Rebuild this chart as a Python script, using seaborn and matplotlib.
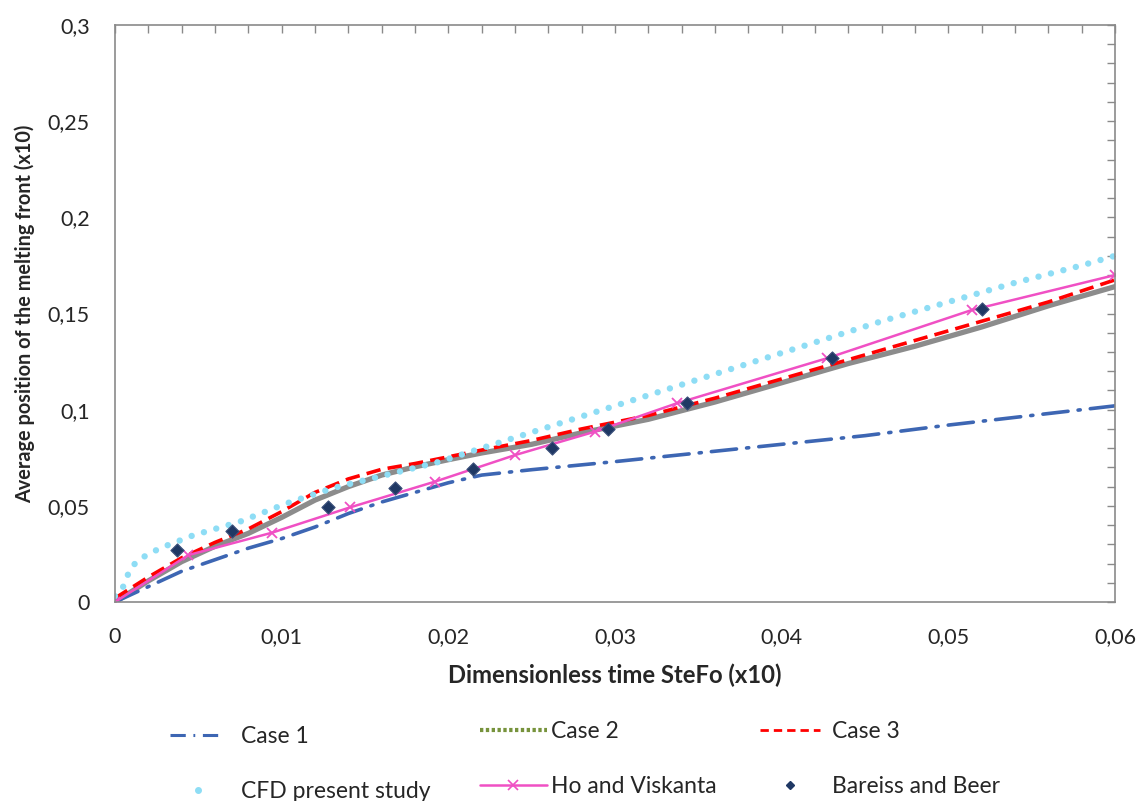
import numpy as np
import matplotlib
matplotlib.use("Agg")
import matplotlib.pyplot as plt
import seaborn as sns
from matplotlib.lines import Line2D
from matplotlib.ticker import MultipleLocator, FuncFormatter

# Case 1 (dash-dot blue)
case1_x = [0, 0.002, 0.004, 0.006, 0.008, 0.010, 0.012, 0.014, 0.016, 0.018, 0.020,
           0.022, 0.025, 0.030, 0.035, 0.040, 0.045, 0.050, 0.055, 0.060]
case1_y = [0, 0.008, 0.016, 0.022, 0.028, 0.033, 0.039, 0.046, 0.052, 0.057, 0.062,
           0.066, 0.0688, 0.073, 0.0775, 0.082, 0.0865, 0.092, 0.097, 0.102]

# Case 2 (drawn as thick grey line) and Case 3 (red dashed)
case_x = [0, 0.002, 0.004, 0.006, 0.008, 0.010, 0.012, 0.014, 0.016, 0.018, 0.020,
          0.022, 0.025, 0.028, 0.032, 0.036, 0.040, 0.044, 0.048, 0.052, 0.056, 0.060]
case2_y = [0, 0.011, 0.021, 0.029, 0.0357, 0.044, 0.053, 0.060, 0.066, 0.0703, 0.074,
           0.0775, 0.082, 0.088, 0.095, 0.104, 0.114, 0.124, 0.133, 0.143, 0.154, 0.164]
case3_y = [0.002, 0.013, 0.023, 0.031, 0.038, 0.047, 0.057, 0.064, 0.069, 0.072, 0.0755,
           0.079, 0.084, 0.090, 0.097, 0.106, 0.116, 0.126, 0.136, 0.146, 0.156, 0.1675]

# CFD present study (light blue dots)
cfd_x = [0, 0.0004, 0.0009, 0.0014, 0.0027, 0.0047, 0.0075, 0.0103, 0.0131, 0.0167, 0.0195,
         0.022, 0.026, 0.030, 0.034, 0.038, 0.042, 0.046, 0.050, 0.054, 0.058, 0.060]
cfd_y = [0.003, 0.006, 0.017, 0.022, 0.028, 0.0347, 0.0418, 0.0513, 0.0593, 0.067, 0.073,
         0.080, 0.091, 0.102, 0.113, 0.124, 0.135, 0.146, 0.156, 0.166, 0.175, 0.180]

# Ho and Viskanta
ho_x = [0, 0.0044, 0.0094, 0.0141, 0.0192, 0.024, 0.0288, 0.0337, 0.0427, 0.0514, 0.060]
ho_y = [0, 0.0244, 0.036, 0.0492, 0.0626, 0.0764, 0.0886, 0.1033, 0.1267, 0.1518, 0.170]

# Bareiss and Beer
bb_x = [0.0037, 0.0070, 0.0128, 0.0168, 0.0215, 0.0262, 0.0296, 0.0343, 0.0430, 0.0520]
bb_y = [0.027, 0.0371, 0.0496, 0.0591, 0.069, 0.0799, 0.0898, 0.1036, 0.127, 0.1522]

sns.set_style("white")
plt.rcParams['font.family'] = ['Lato', 'DejaVu Sans']

fig = plt.figure(figsize=(11.42, 8.01), dpi=100)
ax = fig.add_axes([0.1007, 0.2484, 0.8757, 0.7204])

c1 = "#3D66B3"
pink = "#F050C4"
sns.lineplot(x=case_x, y=case2_y, ax=ax, color="#8C8C8C", linewidth=3.8, sort=False)
sns.lineplot(x=case_x, y=case3_y, ax=ax, color="#FF0000", linewidth=2.6,
             sort=False).lines[-1].set_dashes((4, 2))
l_cfd = sns.lineplot(x=cfd_x, y=cfd_y, ax=ax, color="#8EDDF5", linewidth=4.6, sort=False).lines[-1]
l_cfd.set_dashes((0.01, 2.0))
l_cfd.set_dash_capstyle('round')
l_c1 = sns.lineplot(x=case1_x, y=case1_y, ax=ax, color=c1, linewidth=2.6, sort=False).lines[-1]
l_c1.set_dashes((7, 2.8, 0.6, 2.8))
l_c1.set_dash_capstyle('round')
sns.lineplot(x=ho_x, y=ho_y, ax=ax, color=pink, linewidth=1.8, marker='x',
             markersize=7, markeredgewidth=1.3, markeredgecolor=pink, sort=False)
sns.scatterplot(x=bb_x, y=bb_y, ax=ax, marker='D', s=45, color="#1F3864",
                edgecolor="#3A4F7A", linewidth=0.8, zorder=5)

ax.set_xlim(0, 0.06)
ax.set_ylim(0, 0.3)
ax.xaxis.set_major_locator(MultipleLocator(0.01))
ax.xaxis.set_minor_locator(MultipleLocator(0.002))
ax.yaxis.set_major_locator(MultipleLocator(0.05))
ax.yaxis.set_minor_locator(MultipleLocator(0.01))
fmt = FuncFormatter(lambda v, _: ('%g' % round(v, 4)).replace('.', ','))
ax.xaxis.set_major_formatter(fmt)
ax.yaxis.set_major_formatter(fmt)

for s in ax.spines.values():
    s.set_color("#8A8A8A")
    s.set_linewidth(1.2)
ax.tick_params(which='both', direction='in', top=True, right=True, color="#8A8A8A",
               length=6, width=1.0)
ax.tick_params(axis='x', which='major', labelsize=15.5, pad=18)
ax.tick_params(axis='y', which='major', labelsize=15.5, pad=18)

ax.set_xlabel("Dimensionless time SteFo (x10)", fontsize=17.2, fontweight='bold', labelpad=12)
ax.set_ylabel("Average position of the melting front (x10)", fontsize=14.3, fontweight='bold',
              labelpad=9)

# legend below the plot, one legend per column
kw = dict(frameon=False, fontsize=16.5, labelspacing=1.5,
          loc='upper left', borderaxespad=0, borderpad=0)
col1 = [Line2D([], [], color=c1, linewidth=2.2, dashes=(5, 2.5, 0.6, 2.5)),
        Line2D([], [], color="#8EDDF5", linestyle='none', marker='o', markersize=4)]
col2 = [Line2D([], [], color="#77933C", linewidth=3, dashes=(0.8, 0.6)),
        Line2D([], [], color=pink, linewidth=1.8, marker='x', markersize=7,
               markevery=[1], markeredgewidth=1.2)]
col3 = [Line2D([], [], color="#FF0000", linewidth=2, dashes=(3, 1.8)),
        Line2D([], [], color="#1F3864", linestyle='none', marker='D', markersize=4)]
fig.legend(col1, ["Case 1", "CFD present study"], bbox_to_anchor=(0.149, 0.0936),
           handlelength=2.4, handletextpad=0.7, **kw)
fig.legend(col2, ["Case 2", "Ho and Viskanta"], bbox_to_anchor=(0.420, 0.100),
           handlelength=2.95, handletextpad=0.15, **kw)
fig.legend(col3, ["Case 3", "Bareiss and Beer"], bbox_to_anchor=(0.6655, 0.100),
           handlelength=2.6, handletextpad=0.55, **kw)

fig.savefig("out.png", dpi=100)
